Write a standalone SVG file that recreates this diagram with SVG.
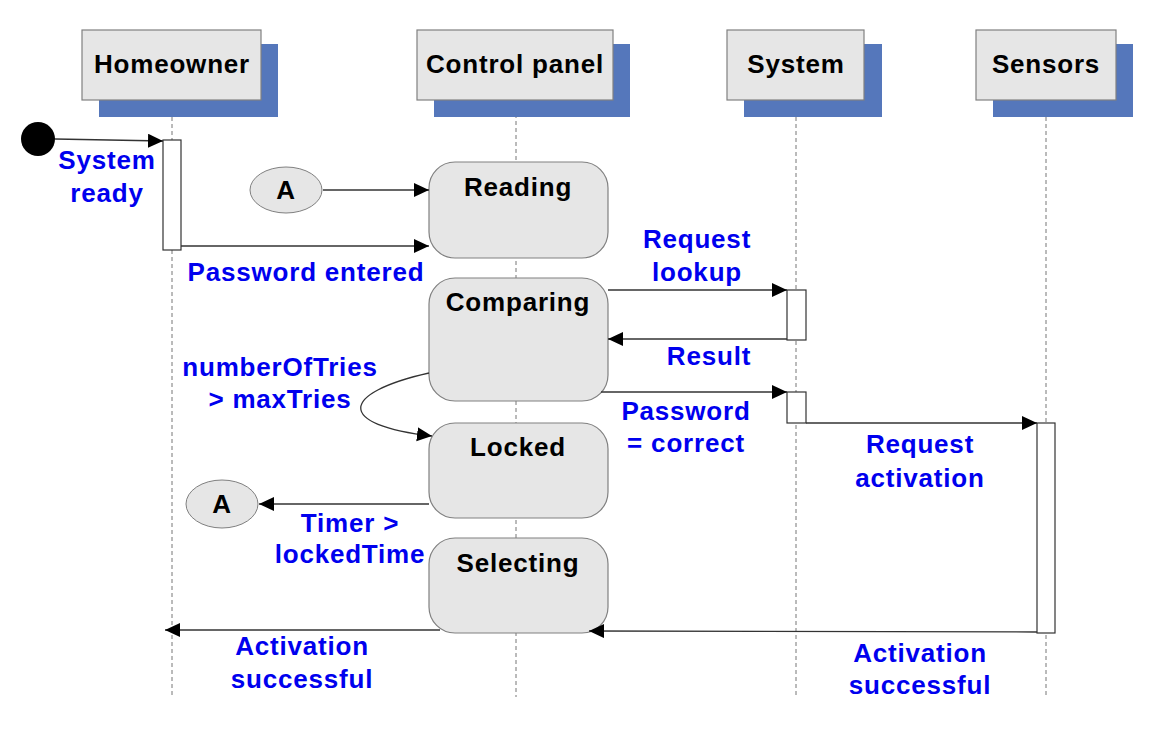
<svg xmlns="http://www.w3.org/2000/svg" width="1158" height="730" viewBox="0 0 1158 730">
<style>
.hdr{fill:#e6e6e6;stroke:#808080;stroke-width:1.2}
.shd{fill:#5577bb}
.life{stroke:#777;stroke-width:1;stroke-dasharray:4,3;fill:none}
.state{fill:#e6e6e6;stroke:#808080;stroke-width:1.2}
.act{fill:#fff;stroke:#333;stroke-width:1.2}
.conn{stroke:#333;stroke-width:1.3;fill:none;marker-end:url(#arr)}
.t{font-family:"Liberation Sans",Arial,sans-serif;font-weight:bold;font-size:26px;text-anchor:middle;letter-spacing:0.8px}
.k{fill:#000}
.b{fill:#0000ee}
</style>
<defs>
<marker id="arr" markerUnits="userSpaceOnUse" markerWidth="16" markerHeight="16" refX="15" refY="7" orient="auto">
<path d="M0,0 L15,7 L0,14 z" fill="#000"/>
</marker>
</defs>
<rect width="1158" height="730" fill="#fff"/>

<g id="lifelines">
<line class="life" x1="172" y1="117" x2="172" y2="697"/>
<line class="life" x1="516" y1="100" x2="516" y2="697"/>
<line class="life" x1="796" y1="117" x2="796" y2="697"/>
<line class="life" x1="1046" y1="117" x2="1046" y2="697"/>
</g>

<g id="homeowner">
<rect class="shd" x="99" y="44" width="179" height="73"/>
<rect class="hdr" x="82" y="30" width="179" height="70"/>
<text class="t k" x="172" y="73">Homeowner</text>
</g>
<g id="controlpanel">
<rect class="shd" x="434" y="44" width="196" height="73"/>
<rect class="hdr" x="417" y="30" width="196" height="70"/>
<text class="t k" x="515" y="73">Control panel</text>
</g>
<g id="system">
<rect class="shd" x="744" y="44" width="138" height="73"/>
<rect class="hdr" x="727" y="30" width="137" height="70"/>
<text class="t k" x="796" y="73">System</text>
</g>
<g id="sensors">
<rect class="shd" x="993" y="44" width="140" height="73"/>
<rect class="hdr" x="976" y="30" width="140" height="70"/>
<text class="t k" x="1046" y="73">Sensors</text>
</g>

<g id="start"><circle cx="38" cy="139" r="17" fill="#000"/></g>

<g id="activations">
<rect class="act" x="163" y="140" width="18" height="110"/>
<rect class="act" x="787" y="290" width="19" height="50"/>
<rect class="act" x="787" y="392" width="19" height="31"/>
<rect class="act" x="1037" y="423" width="18" height="210"/>
</g>

<g id="reading">
<rect class="state" x="429" y="162" width="179" height="96" rx="26"/>
<text class="t k" x="518" y="196">Reading</text>
</g>
<g id="comparing">
<rect class="state" x="429" y="278" width="179" height="123" rx="26"/>
<text class="t k" x="518" y="311">Comparing</text>
</g>
<g id="locked">
<rect class="state" x="429" y="423" width="179" height="95" rx="26"/>
<text class="t k" x="518" y="456">Locked</text>
</g>
<g id="selecting">
<rect class="state" x="429" y="538" width="179" height="95" rx="26"/>
<text class="t k" x="518" y="572">Selecting</text>
</g>

<g id="a1">
<ellipse cx="286" cy="190" rx="36" ry="23" fill="#e6e6e6" stroke="#808080" stroke-width="1"/>
<text class="t k" x="286" y="199">A</text>
</g>
<g id="a2">
<ellipse cx="222" cy="504" rx="36" ry="24" fill="#e6e6e6" stroke="#808080" stroke-width="1"/>
<text class="t k" x="222" y="513">A</text>
</g>

<g id="connectors">
<path class="conn" d="M55,139 L163,141"/>
<path class="conn" d="M323,190 L429,190"/>
<path class="conn" d="M181,246 L429,246"/>
<path class="conn" d="M608,290 L787,290"/>
<path class="conn" d="M787,339 L608,339"/>
<path class="conn" d="M601,392 L787,392"/>
<path class="conn" d="M429,373 C340,393 335,425 432,436"/>
<path class="conn" d="M806,423 L1037,423"/>
<path class="conn" d="M429,504 L259,504"/>
<path class="conn" d="M1037,632 L589,631"/>
<path class="conn" d="M440,630 L165,630"/>
</g>

<g id="labels">
<text class="t b" x="107" y="169">System</text>
<text class="t b" x="107" y="202">ready</text>
<text class="t b" x="306" y="281">Password entered</text>
<text class="t b" x="697" y="248">Request</text>
<text class="t b" x="697" y="281">lookup</text>
<text class="t b" x="709" y="365">Result</text>
<text class="t b" x="280" y="376">numberOfTries</text>
<text class="t b" x="280" y="408">&gt; maxTries</text>
<text class="t b" x="686" y="420">Password</text>
<text class="t b" x="686" y="452">= correct</text>
<text class="t b" x="920" y="453">Request</text>
<text class="t b" x="920" y="487">activation</text>
<text class="t b" x="350" y="532">Timer &gt;</text>
<text class="t b" x="350" y="563">lockedTime</text>
<text class="t b" x="302" y="655">Activation</text>
<text class="t b" x="302" y="688">successful</text>
<text class="t b" x="920" y="662">Activation</text>
<text class="t b" x="920" y="694">successful</text>
</g>
</svg>
